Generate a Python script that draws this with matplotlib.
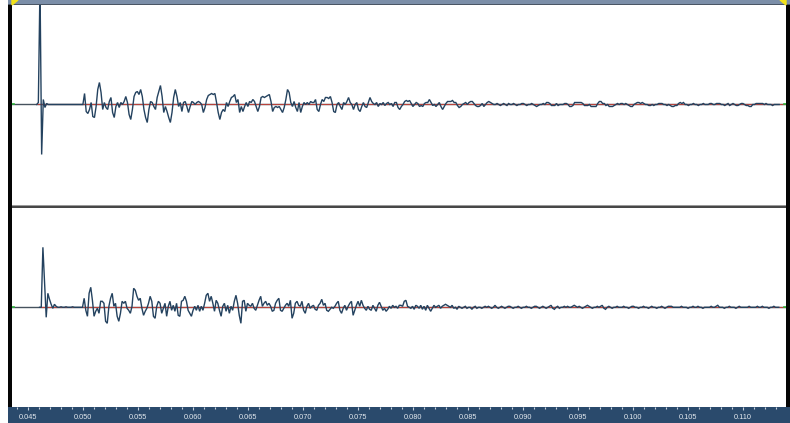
import numpy as np
import matplotlib
matplotlib.use("Agg")
import matplotlib.pyplot as plt
from matplotlib.patches import Polygon

# ---- data (amplitudes in screen-pixel units, + is up) ----
sample_step = 0.00015          # seconds between samples
top_start = 0.045791           # time of first top-channel sample
bottom_start = 0.046055        # time of first bottom-channel sample

top_lead = [0, 2, 120, -50, 5, -3, 1, 0, 0, 0, 0, 0, 0, 0, 0, 0, 0, 0, 0, 0,
            0, 0, 0, 0, 0, 0, 0, 0, 0]
top_early = [11, -7, -9, -5, 2, -12, -13, -2, 15, 22, 12, -5, 2, -3, -5, 3, 7, -8, -13, -2,
             2, -3, 2, 0, 3, 8, 2, -10, -15, -5, 8, 12, 13, 10, 15, 8, -5, -13, -18, -5,
             3, 2, -2, -5, 7, 13, 19, 8, -8, -2, -7, -13, -18, -8, 7, 15, 8, -2, 2, -7,
             2, 3, -2, -8, -2, 3, 2, 0, 2, 3, 2, 0, -8, -3, 5, 9, 10, 11, 10, 11,
             2, -8, -15, -8, -5, -7, 2, -2, 3, 7, 8, 10, 2, 5, -8, -2, -7, -2, 2, -2,
             3, 2, 5, 3, -2, -7, -2, 7, 8, 7, 8, 9, 10, 3, -7, -3, -2, -3, -2, -5,
             -8, -3, 5, 15, 12, 2, -2, 3, -3, -7, 2, -8, -2, 2, 0, 2, 0]
top_mid = [3, 2, 2, 5, -5, -7, 0, 5, 3, 7, 7, 6, 8, 2, -7, -8, 0, 2, -2, -5,
           2, 0, 3, 7, 2, 0, -5, 0, 2, -5, -7, -2, 2, -2, -3, 2, 7, 3, 1, 0,
           2, -2, 1, 0, 2, -1, 1, 2, 0, 1, -2, 2, 2, -3, -5, -2, 0, 3, 4, 3,
           4, 1, -2, 0, 2, 1, -2, -1, -2, 1, 2, 2, 5, 2, -1, 0, -2, 0, 2, -2,
           -5, -2, 1, 3, 3, 3, 4, 2, 2, -1, -3, -2, 0, 1, 2, 0, 2, 3, 3, 1,
           -1, -2, -2, -1, 1, -2, 0, 2, 3, 2, 1, 0, 0]
top_tail = [1, 0, -1, 0, 1, 0, -1, 1, 0, 0, 1, 0, -1, 0, 0, 1, 1, 0, -1, 0,
            0, 1, 0, -1, -2, -1, 0, 0, 1, 0,
            2, 2, 1, -1, -1, -1, 1, -1, 0, 0, 0, 1, 1, 0, -2, -2, -1, 2, 2, 2,
            2, 2, 1, -1, -1, -1, 0, -2, -2, -2, -2, 1, 3, 3, 1, 1, -1, 0, -2, -2,
            -2, -1, 0, 1, 0, 1, 1, 0, 1, 0, -1, -2, -2, 0, 1, 2, 2, 1, 2, 1,
            0, 0, -1, -1, 0, -1, 0, 0, 1, 1, 1, 0, 0, -1, 0, -1, -2, -2, -1, -1,
            1, 2, 1, 2, 0, 0, -1, 0, 0, 1, 0, 0, -1, 0, 0, 1, 0, 0, 0, 1,
            1, 0, 0, 1, 1, 1, 0, 0, -1, 0, 1, -1, 0, 1, 0, -1, -1, 0, 1, 1,
            0, -1, -1, -2, -2, 0, 0, 1, 1, 1, 1, 1, 0, 1, 0, 0, 0, -1, 0, 0, 0, 0]

bottom_lead = [0, 0, 60, 25, -10, 14, 8, 3, -1, 3, 1, 0, 0, 0.5, 0, 0, 0.5, 0, 0, 0,
               0.5, 0, 0, 0, 0, 0, 0]
bottom_early = [9, -3, -9, 14, 20, 7, -9, -4, -1, -6, 6, 6, 4, -14, -16, 1, 9, 14, 1, 4,
                -9, -14, -6, 6, 4, 6, -1, -3, -6, 1, 19, 17, 11, 7, 9, -1, -8, -4, -1, 4,
                11, 6, -9, -11, 1, 6, 4, -6, -1, 4, -9, 1, 6, -3, 2, -4, 4, -8, -9, 6,
                7, 11, 6, -3, -6, -9, -3, 1, -3, 2, -4, 1, -3, 4, 12, 14, 6, 11, 4, -4,
                7, 4, -3, -9, 1, 4, -4, 2, -6, 1, -3, 6, 12, 4, -8, -16, 6, 7, -4, 4,
                2, 1, 4, -1, -3, 2, 7, 11, 1, 4, 6, 2, 4, 1, -4, -3, 4, 7, 9, -3,
                -4, -1, 2, 4, 1, 7, -11, -6, 4, 6, 2, 1, 6, -3, -6, 1, 4]
bottom_mid = [-1, 1, 2, -2, -3, 2, 4, 8, 2, 4, -3, -4, -2, 0, -1, 1, 4, 6, -3, -6,
              -1, 2, -3, 1, 4, 6, -8, -3, 2, 6, 1, 7, 2, -1, -3, 1, -2, -3, 2, -1,
              -4, 2, 5, 1, -3, -1, -4, -2, 1, -1, 2, 0, 1, -1, 2, 2, 1, 6, 7, 1,
              0, -1, 1, -2, 2, 1, -1, 2, -2, 1, -3, 2, -1, -4, -1, 2, 0, 1, 2, -1,
              1, 2, 3, 2, 1, 0, 2, -1, 0, -2, 1, 0, -1, 0, 1, -1, 0, 0, -2, 0,
              1, -1, 0, 0, -1, 0, 1, 0, 1, 0, -1, 0, 2, 0, -1]
bottom_tail = [0, 1, 0, -1, 0, 1, 1, 0, -1, 0, 0, 1, 0, -1, 0, 0, 1, 0, 0, -1,
               0, 1, 1, 0, -1, 0, 1, 0,
               -1, 0, 1, 2, -1, -2, 0, 1, -1, 0, 0, 1, 0, 1, 0, 0, 1, 2, 1, 0,
               1, 0, -1, 0, 1, 2, 1, 0, -1, 0, 0, 1, 0, 1, 2, -1, -2, 0, 1, 0,
               -1, 0, 0, 1, 0, 0, 0, 1, 0, 0, -1, 0, 1, 1, 0, 0, -1, 0, 0, 1,
               0, 0, -1, 0, 1, 0, 0, -1, 0, 0, 1, 0, -1, 0, 1, 1, 1, 0, 0, 0,
               0, 0, 1, 0, 0, 0, -1, 0, 0, 1, 0, 0, 1, 0, 0, -1, 0, 0, 0, 0,
               1, 0, 0, 1, 2, 0, 0, 0, -1, 0, 0, 1, 0, 0, 0, -1, 0, 1, 0, 0,
               0, 0, 0, 1, 0, 0, 0, 0, 1, 0, 0, 1, 0, 0, 0, -1, 0, 0, 1, 0, 0, 0]

tick_values = [0.045, 0.050, 0.055, 0.060, 0.065, 0.070, 0.075, 0.080,
               0.085, 0.090, 0.095, 0.100, 0.105, 0.110]
tick_labels = ["0.045", "0.050", "0.055", "0.060", "0.065", "0.070", "0.075", "0.080",
               "0.085", "0.090", "0.095", "0.100", "0.105", "0.110"]

# ---- layout ----
W, H = 790, 423
PX_PER_SEC = 11000.0


def px_to_time(x):
    return 0.045 + (x - 28) / PX_PER_SEC


def rect(left, top, right, bottom):
    return [left / W, 1 - bottom / H, (right - left) / W, (bottom - top) / H]


def band(fig, left, top, right, bottom, color):
    ax = fig.add_axes(rect(left, top, right, bottom))
    ax.set_facecolor(color)
    ax.set_xticks([])
    ax.set_yticks([])
    for s in ax.spines.values():
        s.set_visible(False)
    return ax


def wave_panel(fig, top, bottom, zero_y, values, t0):
    ax = fig.add_axes(rect(12, top, 786, bottom))
    ax.set_axis_off()
    ax.set_xlim(px_to_time(12), px_to_time(786))
    ax.set_ylim(-(bottom - zero_y), zero_y - top)
    t = t0 + sample_step * np.arange(len(values))
    ax.axhline(0, color="#46525e", lw=1.0, zorder=1)
    ax.plot([t[0], px_to_time(786)], [0, 0], color="#b8433c", lw=0.8, zorder=2)
    ax.plot(t, values, color="#24425f", lw=1.0, zorder=3, solid_joinstyle="miter")
    ax.plot([px_to_time(12), px_to_time(14)], [0, 0], color="#2fb83a", lw=1.2, zorder=4)
    ax.plot([px_to_time(784), px_to_time(786)], [0, 0], color="#2fb83a", lw=1.2, zorder=4)
    return ax


def main():
    fig = plt.figure(figsize=(W / 100, H / 100), dpi=100)
    fig.patch.set_facecolor("white")

    top_values = top_lead + top_early + top_mid + top_tail
    bottom_values = bottom_lead + bottom_early + bottom_mid + bottom_tail

    wave_panel(fig, 5, 205, 104.5, top_values, top_start)
    wave_panel(fig, 208, 406, 307.3, bottom_values, bottom_start)

    # frame pieces
    band(fig, 8, 0, 790, 5, "#7b8ea8")
    band(fig, 8, 4, 790, 5.5, "#4a5564")
    band(fig, 8, 5, 12, 407, "#050505")
    band(fig, 786, 5, 790, 407, "#050505")
    band(fig, 12, 205, 786, 206, "#9a9a9a")
    band(fig, 12, 206, 786, 208, "#474747")

    # corner markers
    deco = fig.add_axes([0, 0, 1, 1])
    deco.set_axis_off()
    deco.set_xlim(0, W)
    deco.set_ylim(H, 0)
    deco.add_patch(Polygon([(12, 0), (18, 0), (12, 5)], color="#f2e21a"))
    deco.add_patch(Polygon([(786, 0), (780, 0), (786, 5)], color="#f2e21a"))

    # time ruler
    ruler = band(fig, 8, 407, 790, 423, "#2a4a6c")
    ruler.set_xlim(px_to_time(8), px_to_time(790))
    ruler.set_ylim(0, 1)
    ruler.set_xticks(tick_values)
    ruler.set_xticks(np.arange(0.044, 0.1135, 0.001), minor=True)
    ruler.tick_params(axis="x", which="both", top=True, bottom=False, direction="in",
                      labelbottom=False, color="#c9d3de", width=0.8)
    ruler.tick_params(axis="x", which="major", length=2.4)
    ruler.tick_params(axis="x", which="minor", length=1.5)
    for t, lab in zip(tick_values, tick_labels):
        ruler.text(t, 0.36, lab, ha="center", va="center", color="#e3e9ef",
                   fontsize=5.3, family="Liberation Sans")

    fig.savefig("out.png", dpi=100, facecolor="white")


if __name__ == "__main__":
    main()
